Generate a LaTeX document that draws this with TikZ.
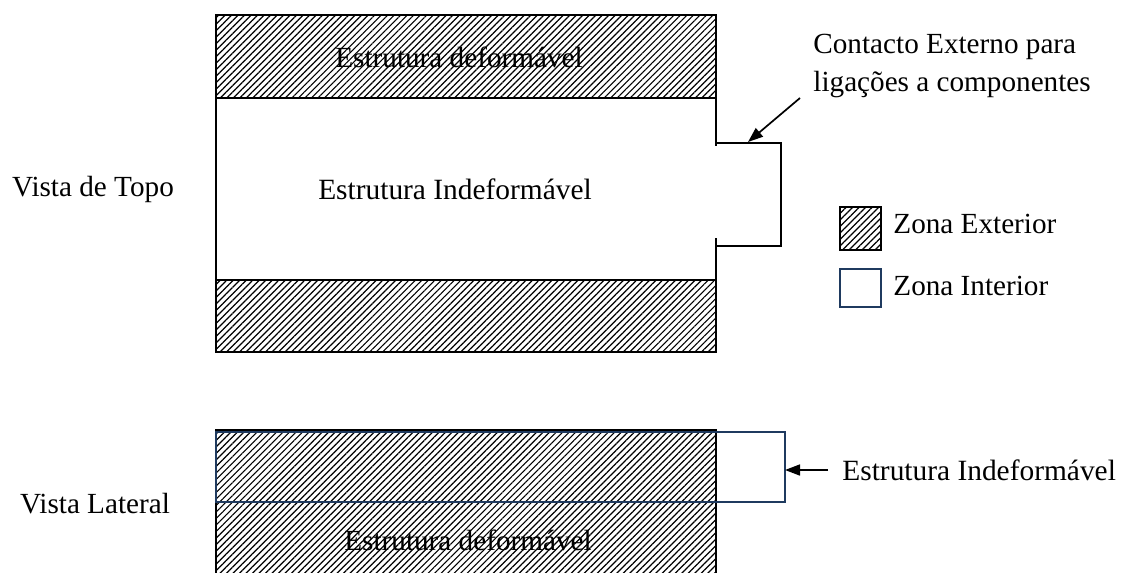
\documentclass[tikz,border=0pt]{standalone}
\usepackage{fontspec}
\setmainfont{Liberation Serif}
\usetikzlibrary{arrows.meta,patterns.meta,positioning}
\definecolor{ink}{HTML}{000000}
\definecolor{framenavy}{HTML}{1F3A5F}
\tikzset{
  hatch/.style={pattern={Lines[angle=45,distance=2.3pt,line width=0.6pt]},pattern color=ink},
  edge/.style={draw=ink,line width=1pt},
  navyedge/.style={draw=framenavy,line width=0.9pt},
  pointer/.style={-{Triangle[length=7.5pt,width=5.5pt]},draw=ink,line width=0.85pt},
  lbl/.style={font=\fontsize{14.6}{17.5}\selectfont,inner sep=0pt},
  big/.style={font=\fontsize{14.7}{17.5}\selectfont,inner sep=0pt},
}

\begin{document}
\begin{tikzpicture}[x=0.5pt,y=-0.5pt]
  \clip (0,0) rectangle (1122,572);
  % vista de topo
  \path[hatch] (216,15) rectangle (716,98);
  \path[hatch] (216,280) rectangle (716,352);
  \draw[edge] (716,146) -- (716,15) -- (216,15) -- (216,352) -- (716,352) -- (716,238);
  \draw[edge] (216,98) -- (716,98);
  \draw[edge] (216,280) -- (716,280);
  \draw[edge] (716,143) -- (781,143) -- (781,246) -- (716,246);
  \node[lbl,anchor=base] (deftop) at (459,68) {Estrutura deformável};
  \node[big,anchor=base] (indef) at (455,199) {Estrutura Indeformável};
  \node[lbl,anchor=base] (topo) at (93,197) {Vista de Topo};
  \node[lbl,anchor=base west] (contacto1) at (813,54) {Contacto Externo para};
  \node[lbl,anchor=base west] (contacto2) at (813,92) {ligações a componentes};
  \coordinate (contactotail) at (800,98);
  \coordinate (contactotip) at (748,142);
  \draw[pointer] (contactotail) -- (contactotip);
  % legenda
  \path[hatch] (840,207) rectangle (881,250);
  \draw[edge] (840,207) rectangle (881,250);
  \draw[navyedge] (840,269) rectangle (881,307);
  \node[lbl,anchor=base west] (exterior) at (893,233) {Zona Exterior};
  \node[lbl,anchor=base west] (interior) at (893,295) {Zona Interior};
  % vista lateral
  \path[hatch] (216,430) rectangle (716,580);
  \draw[edge] (216,580) -- (216,430) -- (716,430) -- (716,580);
  \draw[navyedge] (216,432) rectangle (785,502);
  \coordinate (sideNE) at (785,432);
  \node[lbl,anchor=base] (defbot) at (468,550) {Estrutura deformável};
  \node[lbl,anchor=base] (lateral) at (95,513) {Vista Lateral};
  \node[big,anchor=west] (indeflat) at (842,470) {Estrutura Indeformável};
  \draw[pointer] ([xshift=-7pt]indeflat.west) -- (indeflat.west -| sideNE);
\end{tikzpicture}
\end{document}
